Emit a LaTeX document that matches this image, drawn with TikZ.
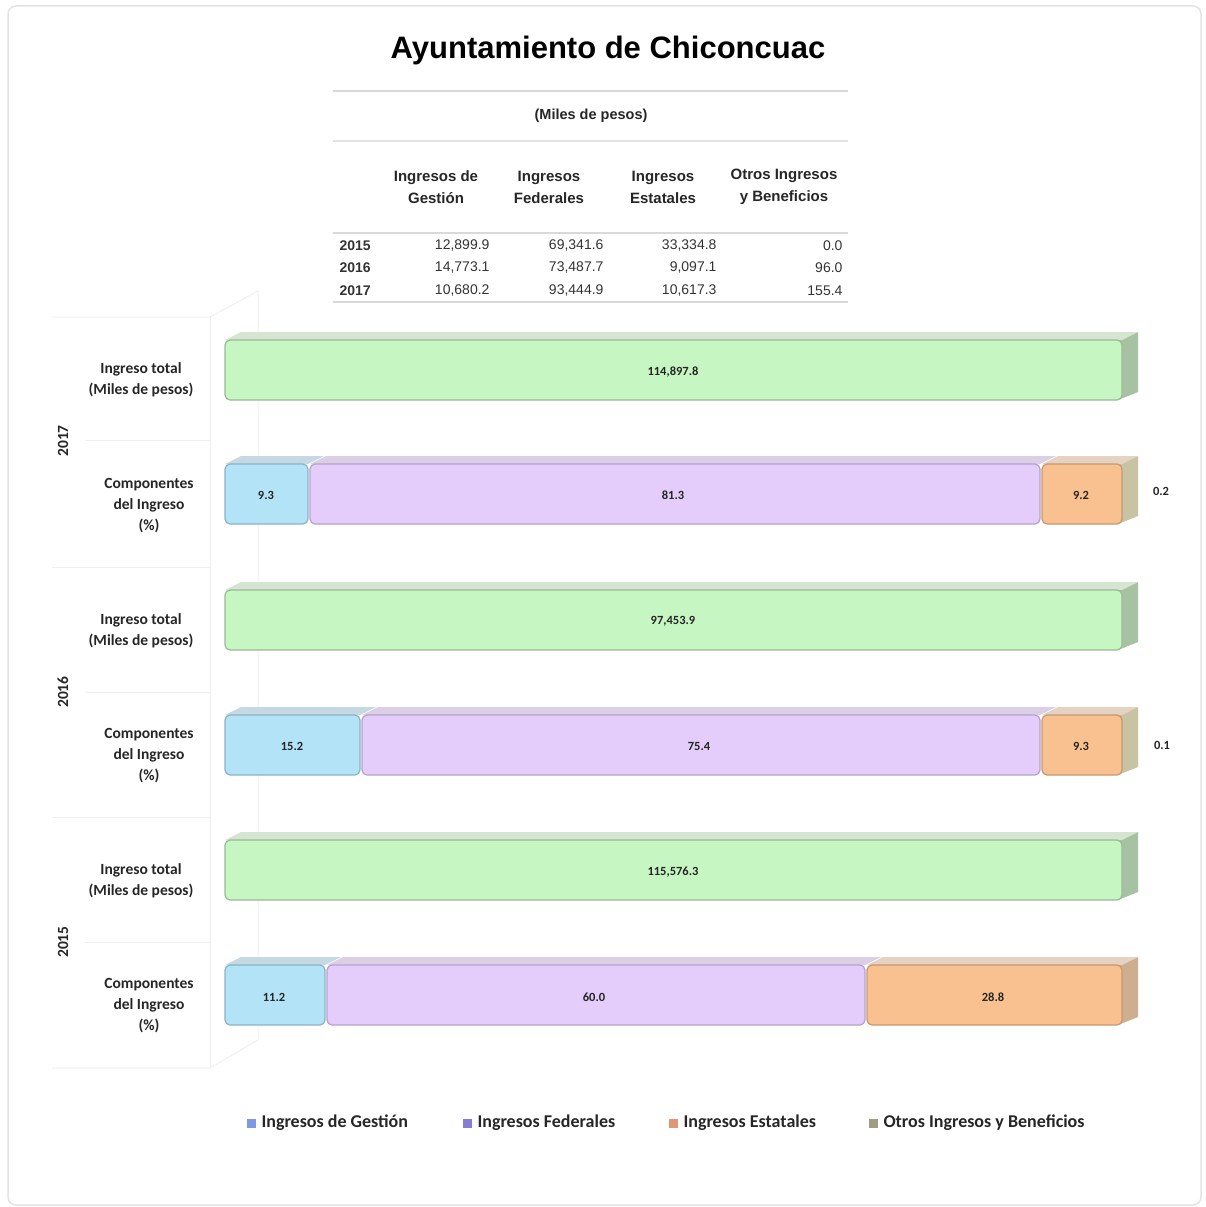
\documentclass[tikz,border=0pt]{standalone}
\usepackage{fontspec}
\setmainfont{Liberation Sans}
\newfontfamily\calib{Carlito}
\definecolor{verde}{HTML}{C6F6C2}
\definecolor{verdetop}{HTML}{D5E5D1}
\definecolor{verdeedge}{HTML}{9CB898}
\definecolor{verdeside}{HTML}{A6C2A2}
\definecolor{azul}{HTML}{B3E3F7}
\definecolor{azultop}{HTML}{C6D9E2}
\definecolor{azuledge}{HTML}{8AB3C6}
\definecolor{morado}{HTML}{E4CDFA}
\definecolor{moradotop}{HTML}{DCCFE5}
\definecolor{moradoedge}{HTML}{B3A2CC}
\definecolor{naranja}{HTML}{F9C18F}
\definecolor{naranjatop}{HTML}{E4D3C2}
\definecolor{naranjaedge}{HTML}{C59871}
\definecolor{naranjaside}{HTML}{CDAF8F}
\definecolor{otros}{HTML}{C8C3A3}
% segmento 3D: x inicial, x final, y superior, color
\newcommand{\segmento}[4]{%
\fill[#4top] (#1,#3) -- ++(16,-8) -- (#2+16,#3-8) -- (#2,#3) -- cycle;
\draw[#4edge, fill=#4, rounded corners=5pt, line width=1.2pt] (#1,#3) rectangle (#2,#3+60);
}
% cara lateral: y superior, color
\newcommand{\lado}[2]{%
\fill[#2] (1118,#1) -- ++(20,-8) -- ++(0,60) -- ++(-20,8) -- cycle;
}
\begin{document}
\begin{tikzpicture}[x=1pt, y=-1pt,
  tabla/.style={font=\fontsize{14}{20}\selectfont, text=black!80},
  cabeza/.style={font=\bfseries\fontsize{15}{22}\selectfont, text=black!85, align=center},
  rotulo/.style={font=\calib\bfseries\fontsize{15.5}{21}\selectfont, align=center, text=black!85},
  valor/.style={font=\calib\bfseries\fontsize{12.5}{13}\selectfont, text=black!85},
  leyenda/.style={font=\calib\bfseries\fontsize{18}{20}\selectfont, anchor=west, text=black!85},
  rejilla/.style={draw=gray!12, line width=1pt}]
\useasboundingbox (0,0) rectangle (1205,1207);
\draw[gray!22, rounded corners=8pt, line width=1.5pt] (8,6) rectangle (1201,1205);

% titulo y tabla
\node[] (titulo) at (608,50) {\fontsize{31}{36}\selectfont\bfseries Ayuntamiento de Chiconcuac};
\draw[gray!30, line width=2.5pt] (333,91) -- (848,91);
\node[cabeza, font=\bfseries\fontsize{14.5}{20}\selectfont] (miles) at (591,116) {(Miles de pesos)};
\draw[gray!22, line width=2pt] (333,141) -- (848,141);
\node[cabeza] (hgest) at (436,187) {Ingresos de\\Gestión};
\node[cabeza] (hfed) at (549,187) {Ingresos\\Federales};
\node[cabeza] (hest) at (663,187) {Ingresos\\Estatales};
\node[cabeza] (hotr) at (784,187) {Otros Ingresos\\y Beneficios};
\draw[gray!30, line width=2.5pt] (333,233) -- (848,233);
\node[tabla, anchor=west, font=\bfseries\fontsize{14}{16}\selectfont] (a15) at (336,246) {2015};
\node[tabla, anchor=west, font=\bfseries\fontsize{14}{16}\selectfont] (a16) at (336,268) {2016};
\node[tabla, anchor=west, font=\bfseries\fontsize{14}{16}\selectfont] (a17) at (336,291) {2017};
\node[tabla, anchor=east] (g15) at (493,246) {12,899.9};
\node[tabla, anchor=east] (f15) at (607,246) {69,341.6};
\node[tabla, anchor=east] (e15) at (720,246) {33,334.8};
\node[tabla, anchor=east] (o15) at (846,246) {0.0};
\node[tabla, anchor=east] (g16) at (493,268) {14,773.1};
\node[tabla, anchor=east] (f16) at (607,268) {73,487.7};
\node[tabla, anchor=east] (e16) at (720,268) {9,097.1};
\node[tabla, anchor=east] (o16) at (846,268) {96.0};
\node[tabla, anchor=east] (g17) at (493,291) {10,680.2};
\node[tabla, anchor=east] (f17) at (607,291) {93,444.9};
\node[tabla, anchor=east] (e17) at (720,291) {10,617.3};
\node[tabla, anchor=east] (o17) at (846,291) {155.4};
\draw[gray!30, line width=2.5pt] (333,302) -- (848,302);

% rejilla tenue del grafico
\draw[rejilla] (52,317) -- (210,317) -- (258,291) -- (258,1040);
\draw[rejilla] (210,317) -- (210,1068);
\draw[rejilla] (52,567) -- (210,567);
\draw[rejilla] (52,817) -- (210,817);
\draw[rejilla] (52,1068) -- (210,1068) -- (258,1040);
\draw[rejilla] (85,440) -- (210,440);
\draw[rejilla] (85,692) -- (210,692);
\draw[rejilla] (85,942) -- (210,942);

% 2017
\lado{340}{verdeside}
\segmento{225}{1122}{340}{verde}
\lado{464}{otros}
\segmento{225}{308}{464}{azul}
\segmento{310}{1040}{464}{morado}
\segmento{1042}{1122}{464}{naranja}
% 2016
\lado{590}{verdeside}
\segmento{225}{1122}{590}{verde}
\lado{715}{otros}
\segmento{225}{360}{715}{azul}
\segmento{362}{1040}{715}{morado}
\segmento{1042}{1122}{715}{naranja}
% 2015
\lado{840}{verdeside}
\segmento{225}{1122}{840}{verde}
\lado{965}{naranjaside}
\segmento{225}{325}{965}{azul}
\segmento{327}{865}{965}{morado}
\segmento{867}{1122}{965}{naranja}

\node[valor] (t17) at (673,372) {114,897.8};
\node[valor] (g17v) at (266,495) {9.3};
\node[valor] (f17v) at (673,495) {81.3};
\node[valor] (e17v) at (1081,495) {9.2};
\node[valor] (o17v) at (1161,491) {0.2};
\node[valor] (t16) at (673,621) {97,453.9};
\node[valor] (g16v) at (292,746) {15.2};
\node[valor] (f16v) at (699,746) {75.4};
\node[valor] (e16v) at (1081,746) {9.3};
\node[valor] (o16v) at (1162,745) {0.1};
\node[valor] (t15) at (673,872) {115,576.3};
\node[valor] (g15v) at (274,997) {11.2};
\node[valor] (f15v) at (594,997) {60.0};
\node[valor] (e15v) at (993,997) {28.8};

% rotulos de filas
\node[rotulo] (it17) at (141,380) {Ingreso total\\(Miles de pesos)};
\node[rotulo] (ci17) at (149,506) {Componentes\\del Ingreso\\(\%)};
\node[rotulo] (it16) at (141,631) {Ingreso total\\(Miles de pesos)};
\node[rotulo] (ci16) at (149,756) {Componentes\\del Ingreso\\(\%)};
\node[rotulo] (it15) at (141,881) {Ingreso total\\(Miles de pesos)};
\node[rotulo] (ci15) at (149,1006) {Componentes\\del Ingreso\\(\%)};
\node[rotulo, rotate=90] (y17) at (63,441) {2017};
\node[rotulo, rotate=90] (y16) at (63,692) {2016};
\node[rotulo, rotate=90] (y15) at (63,942) {2015};

% leyenda
\fill[azul!70!blue!80!gray] (247,1119) rectangle (256,1128);
\node[leyenda] (lg) at (258,1123) {Ingresos de Gestión};
\fill[morado!60!blue!70!gray] (463,1119) rectangle (472,1128);
\node[leyenda] (lf) at (474,1123) {Ingresos Federales};
\fill[naranja!80!red!80!gray] (669,1119) rectangle (678,1128);
\node[leyenda] (le) at (680,1123) {Ingresos Estatales};
\fill[otros!80!black] (869,1119) rectangle (878,1128);
\node[leyenda] (lo) at (880,1123) {Otros Ingresos y Beneficios};
\end{tikzpicture}
\end{document}
